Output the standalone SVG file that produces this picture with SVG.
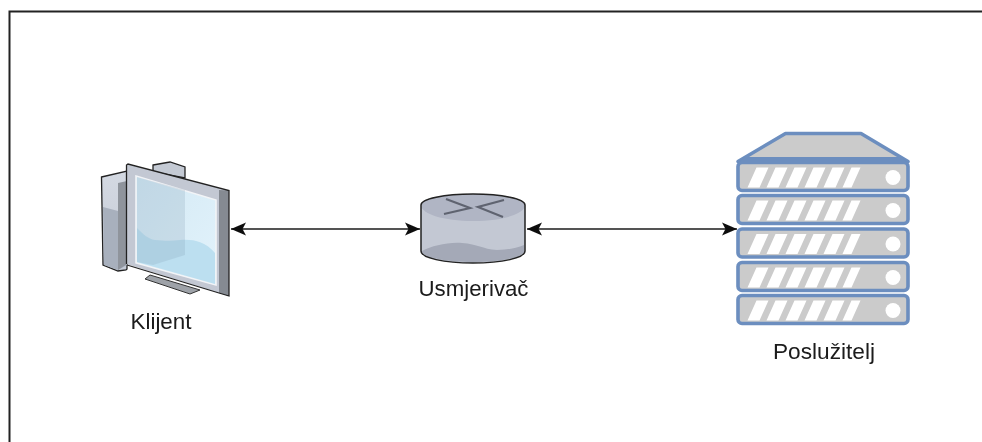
<svg xmlns="http://www.w3.org/2000/svg" width="982" height="442" viewBox="0 0 982 442">
<style>
text{font-family:"Liberation Sans",Arial,sans-serif;font-size:22px;fill:#1a1a1a;text-anchor:middle}
.conn{stroke:#1a1a1a;stroke-width:1.5;fill:none}
.unit{fill:#cbcbcb;stroke:#6c8ebf;stroke-width:3.6}
.led{fill:#fff}
.st{fill:#fff}
.ra{fill:none;stroke:#5f6470;stroke-width:2.200}
</style>
<defs>
<filter id="soft" x="-5%" y="-5%" width="110%" height="110%"><feGaussianBlur stdDeviation="0.5"/></filter>
<marker id="arr" viewBox="0 0 16 14" refX="15" refY="7" markerWidth="16" markerHeight="14" markerUnits="userSpaceOnUse" orient="auto-start-reverse"><path d="M0 0.5L15 7L0 13.5L3.5 7Z" fill="#111"/></marker>
<linearGradient id="tower" x1="0" y1="0" x2="0" y2="1"><stop offset="0" stop-color="#d4d9e2"/><stop offset="1" stop-color="#c4cad6"/></linearGradient>
<linearGradient id="scr" x1="0" y1="0" x2="1" y2="1"><stop offset="0" stop-color="#d3e9f4"/><stop offset="1" stop-color="#e2f2fb"/></linearGradient>
<g id="unit">
<rect class="unit" x="738" y="0" width="170" height="28" rx="4"/>
<path class="st" d="M747.500 25L756.500 5H768.500L759.500 25ZM766.500 25L775.500 5H787.500L778.500 25ZM785.500 25L794.500 5H806.500L797.500 25ZM804.500 25L813.500 5H825.500L816.500 25ZM823.500 25L832.500 5H844.500L835.500 25ZM842.500 25L851.500 5H860.500L851.500 25Z"/>
<circle class="led" cx="893" cy="15" r="7.500"/>
</g>
</defs>
<g filter="url(#soft)">
<path id="frame" d="M9.500 442V11.500H982" fill="none" stroke="#222" stroke-width="2"/>
<g id="connectors">
<line class="conn" x1="231" y1="229" x2="420" y2="229" marker-start="url(#arr)" marker-end="url(#arr)"/>
<line class="conn" x1="527" y1="229" x2="737" y2="229" marker-start="url(#arr)" marker-end="url(#arr)"/>
</g>
<g id="klijent">
<path d="M153 165L170 162L185 167V178L153 172Z" fill="#c4cad4" stroke="#222" stroke-width="1.300"/>
<path d="M101.500 177L127 171V269L126 270L118 271L103 265Z" fill="url(#tower)" stroke="#222" stroke-width="1.300"/>
<path d="M103 207L118 211L127 214V265L118 270L104 265Z" fill="#a8b0bd"/>
<path d="M118 183L127 181V264L118 270Z" fill="#8f949c"/>
<path d="M145 279L150 275L200 290L190 294Z" fill="#9ea2a8" stroke="#333" stroke-width="1"/>
<path d="M127 164L228.500 190.500V296L126.500 264Z" fill="#c3c8d3"/>
<path d="M219 190L229 190.500V296L219 293Z" fill="#858a92"/>
<path d="M126.500 264V165L128 164L229 190.500V296L219 293L127 265" fill="none" stroke="#222" stroke-width="1.300"/>
<path d="M136 176L216 200V285L136 263Z" fill="url(#scr)" stroke="#f2f4f7" stroke-width="1.600"/>
<path d="M137 228C143 234 148 239 155 240C165 241 172 241 180 240C192 239 205 241 215 253V284L137 262Z" fill="#bcdff0"/>
<path d="M137 177L185 190V255L153 265L137 262Z" fill="#7f9cb0" fill-opacity="0.220"/>
<text x="161" y="329" textLength="61" lengthAdjust="spacingAndGlyphs">Klijent</text>
</g>
<g id="usmjerivac">
<path d="M421 205V251C421 258 444 263 473 263C502 263 525 258 525 251V205Z" fill="#c3c8d3"/>
<path d="M422 251C432 246 447 242 462 243C478 244 482 249 497 250C507 250 517 248 524 245V251C524 257 502 262 473 262C444 262 422 257 422 251Z" fill="#a4a9b7"/>
<path d="M421 205C421 199 444 194 473 194C502 194 525 199 525 205C525 214 502 221 473 221C444 221 421 214 421 205Z" fill="#b0b5c4"/>
<path d="M421 205V251C421 258 444 263 473 263C502 263 525 258 525 251V205C525 199 502 194 473 194C444 194 421 199 421 205Z" fill="none" stroke="#222" stroke-width="1.500"/>
<path class="ra" d="M446 199L470 208L444 214M504 200L478 207L503 217"/>
<text x="473.500" y="296" textLength="110" lengthAdjust="spacingAndGlyphs">Usmjerivač</text>
</g>
<g id="posluzitelj">
<path d="M738 161.500L785.500 133.500H861L908 161.500Z" fill="#cbcbcb" stroke="#6c8ebf" stroke-width="3.600" stroke-linejoin="round"/>
<path d="M745 157H901L908 163H738Z" fill="#6c8ebf"/>
<use href="#unit" y="162.500"/>
<use href="#unit" y="195.500"/>
<use href="#unit" y="229"/>
<use href="#unit" y="262.500"/>
<use href="#unit" y="295.500"/>
<text x="824" y="359" textLength="102" lengthAdjust="spacingAndGlyphs">Poslužitelj</text>
</g>
</g>
</svg>
